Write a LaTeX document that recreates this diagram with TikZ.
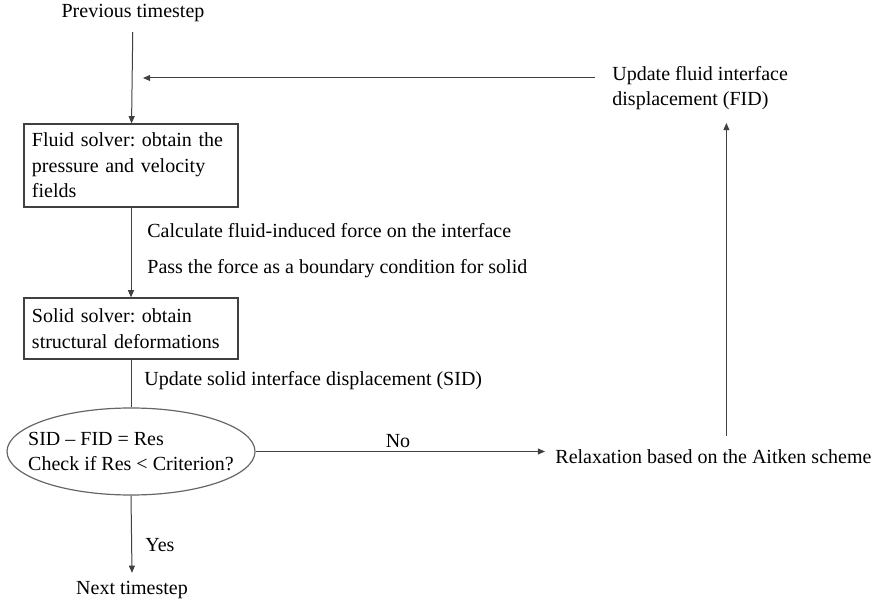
\documentclass[tikz,border=0pt]{standalone}
\usepackage{fontspec}
\setmainfont{Liberation Serif}
\usepackage{tikz}
\usetikzlibrary{arrows.meta,positioning,calc,shapes.geometric}
\frenchspacing
\definecolor{lineC}{HTML}{404040}
\tikzset{
  stepbox/.style={rectangle, draw=lineC, line width=0.6pt, align=left, text width=99pt,
                  minimum width=107pt, inner xsep=4pt, font=\fontsize{10}{12.7}\selectfont},
  checkbox/.style={ellipse, draw=lineC!80, line width=0.6pt, align=left, inner xsep=-9pt, inner ysep=0pt,
                   minimum width=124pt, minimum height=43.5pt, font=\fontsize{10}{12.7}\selectfont},
  lbl/.style={inner sep=0pt, align=left, font=\fontsize{10}{12.7}\selectfont},
  arr/.style={-{Triangle[length=3.6pt, width=3pt]}, line width=0.5pt, draw=lineC},
}
\begin{document}
\begin{tikzpicture}[x=0.5pt, y=-0.5pt]
    \useasboundingbox (0,0) rectangle (882,603);
    \node[lbl] (prev) at (133,13) {Previous timestep};
    \node[stepbox, minimum height=41.5pt] (fluid) at (131,165.5)
      {Fluid solver: obtain the\\pressure and velocity\\fields};
    \node[stepbox, minimum height=30.5pt] (solid) at (131,328.5)
      {Solid solver: obtain\\structural deformations};
    \node[checkbox] (check) at (131,451.5)
      {SID -- FID = Res\\Check if Res < Criterion?};
    \node[lbl] (next) at (132,590) {Next timestep};
    \node[lbl, anchor=west] (relax) at (555,457) {Relaxation based on the Aitken scheme};
    \node[lbl, anchor=west] (fid) at (612,88) {Update fluid interface\\displacement (FID)};
    \coordinate (loop) at (143,78);
    % labels on the links
    \node[lbl, anchor=west] (force) at (147,231) {Calculate fluid-induced force on the interface};
    \node[lbl, anchor=west] (pass) at (147,269) {Pass the force as a boundary condition for solid};
    \node[lbl, anchor=west] (sid) at (144,381) {Update solid interface displacement (SID)};
    \node[lbl] (no) at (398,441) {No};
    \node[lbl, anchor=west] (yes) at (145,545) {Yes};
    % links
    \draw[arr, shorten <=5pt] (prev) -- (fluid);
    \draw[arr] (fluid) -- (solid);
    \draw[line width=0.5pt, draw=lineC] (solid) -- (check);
    \draw[arr] (check.south) -- ([yshift=4pt]next.north);
    \draw[arr] (check.east) -- ([xshift=-5pt]relax.west |- check.east);
    \draw[arr] ([xshift=6.5pt, yshift=7pt]relax.north) -- ([xshift=6.5pt]relax.north |- 0,123);
    \draw[arr] ([xshift=-8.5pt]fid.west |- loop) -- (loop);
  \end{tikzpicture}
\end{document}
